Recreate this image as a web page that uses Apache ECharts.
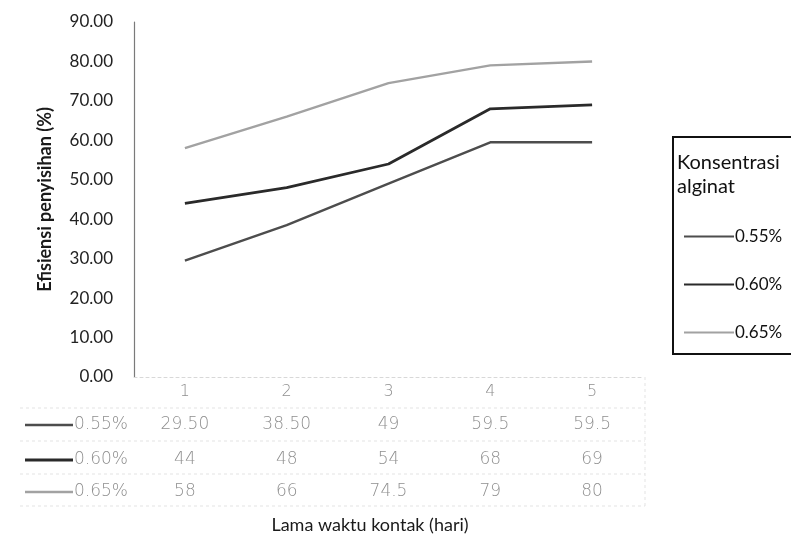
<!DOCTYPE html>
<html>
<head>
<meta charset="utf-8">
<script src="https://cdn.jsdelivr.net/npm/echarts@6/dist/echarts.min.js"></script>
<style>
  html, body { margin: 0; padding: 0; background: #fff; }
  #chart { width: 791px; height: 538px; }
</style>
</head>
<body>
<div id="chart"></div>
<script>
// Contact time (days) and removal efficiency per alginate concentration,
// kept as the strings printed in the data table below the plot.
const days = ['1', '2', '3', '4', '5'];
const seriesNames = ['0.55%', '0.60%', '0.65%'];
const eff055 = ['29.50', '38.50', '49', '59.5', '59.5'];
const eff060 = ['44', '48', '54', '68', '69'];
const eff065 = ['58', '66', '74.5', '79', '80'];
const yTicks = { min: 0, max: 90, step: 10 };

const rows = [eff055, eff060, eff065];
const lineColors = ['#4d4d4d', '#2a2a2a', '#a2a2a2'];
const lineWidths = [2.4, 2.8, 2.4];
const FONT = 'Lato';
const TABLE_FONT = 'DejaVu Sans';
const TABLE_COLOR = '#8f8f8f';

const chart = echarts.init(document.getElementById('chart'), null, { renderer: 'canvas' });

const GRID = { left: 134, right: 148, top: 22, bottom: 161 };
const rowOffsets = [32, 67, 99];

// One extra category axis per table row: its labels are the row's values.
const tableAxes = rows.map((vals, i) => ({
  type: 'category',
  gridIndex: 0,
  position: 'bottom',
  offset: rowOffsets[i],
  data: vals,
  axisLine: { show: false },
  axisTick: { show: false },
  axisLabel: {
    margin: 7,
    fontFamily: TABLE_FONT,
    fontWeight: 300,
    fontSize: 17,
    color: TABLE_COLOR,
    interval: 0
  }
}));

const rowHeaders = [];
seriesNames.forEach((name, i) => {
  const y = 377 + 7 + rowOffsets[i] + 9;
  rowHeaders.push({
    type: 'line',
    shape: { x1: 25, y1: y, x2: 73, y2: y },
    style: { stroke: lineColors[i], lineWidth: lineWidths[i] }
  });
  rowHeaders.push({
    type: 'text',
    x: 74, y: y,
    style: {
      text: name, fontFamily: TABLE_FONT, fontWeight: 300, fontSize: 17, fill: TABLE_COLOR,
      textVerticalAlign: 'middle'
    }
  });
});

// Faint table rules
const tableRules = [];
[408, 441, 474, 506].forEach(y => {
  tableRules.push({
    type: 'line',
    shape: { x1: 20, y1: y, x2: 645, y2: y },
    style: { stroke: '#e4e4e4', lineWidth: 1, lineDash: [3, 3] }
  });
});
tableRules.push({
  type: 'line',
  shape: { x1: 645, y1: 377, x2: 645, y2: 506 },
  style: { stroke: '#e4e4e4', lineWidth: 1, lineDash: [3, 3] }
});

chart.setOption({
  backgroundColor: '#ffffff',
  animation: false,
  grid: GRID,
  xAxis: [{
    type: 'category',
    data: days,
    boundaryGap: true,
    axisLine: { show: true, lineStyle: { color: '#d8d8d8', width: 1, type: [3, 3] } },
    axisTick: { show: false },
    axisLabel: { margin: 7, fontFamily: TABLE_FONT, fontWeight: 300, fontSize: 16, color: TABLE_COLOR }
  }].concat(tableAxes),
  yAxis: {
    type: 'value',
    min: yTicks.min,
    max: yTicks.max,
    interval: yTicks.step,
    name: 'Efisiensi penyisihan (%)',
    nameLocation: 'middle',
    nameGap: 80,
    nameRotate: 90,
    nameTextStyle: { fontFamily: FONT, fontSize: 18, fontWeight: 'bold', color: '#1a1a1a' },
    axisLine: { show: true, lineStyle: { color: '#7a7a7a', width: 1.2 } },
    axisTick: { show: false },
    splitLine: { show: false },
    axisLabel: {
      margin: 21,
      fontFamily: FONT,
      fontSize: 17,
      color: '#222',
      formatter: v => v.toFixed(2)
    }
  },
  legend: {
    orient: 'vertical',
    left: 673,
    top: 137,
    padding: [91, 60, 13, 10],
    itemGap: 31,
    itemWidth: 50,
    itemHeight: 14,
    borderColor: '#111',
    borderWidth: 2,
    data: seriesNames,
    itemStyle: { opacity: 0 },
    textStyle: { fontFamily: FONT, fontSize: 17, color: '#111', padding: [0, 0, 0, -4] }
  },
  series: rows.map((vals, i) => ({
    name: seriesNames[i],
    type: 'line',
    data: vals.map(Number),
    symbol: 'none',
    lineStyle: { color: lineColors[i], width: lineWidths[i] },
    itemStyle: { color: lineColors[i] }
  })),
  graphic: [
    {
      type: 'text',
      x: 677, y: 163,
      style: { text: 'Konsentrasi', fontFamily: FONT, fontSize: 20, fill: '#111', textVerticalAlign: 'middle' }
    },
    {
      type: 'text',
      x: 677, y: 187,
      style: { text: 'alginat', fontFamily: FONT, fontSize: 20, fill: '#111', textVerticalAlign: 'middle' }
    },
    {
      type: 'text',
      x: 370, y: 525,
      style: {
        text: 'Lama waktu kontak (hari)', fontFamily: FONT, fontSize: 18, fill: '#1a1a1a',
        textAlign: 'center', textVerticalAlign: 'middle'
      }
    }
  ].concat(rowHeaders, tableRules)
});
</script>
</body>
</html>
